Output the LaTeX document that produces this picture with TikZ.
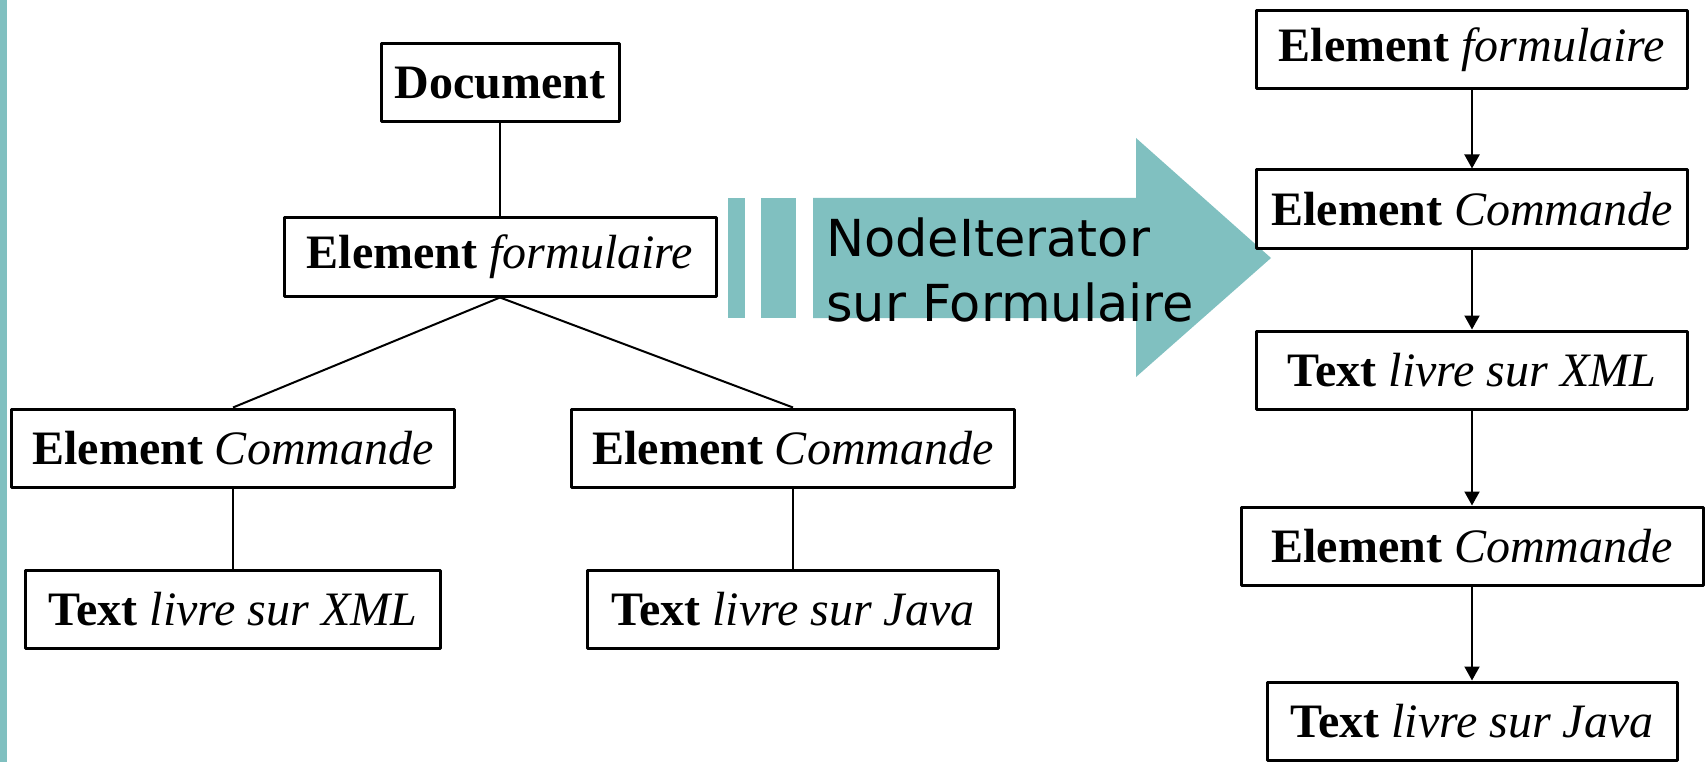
\documentclass[tikz,border=0pt]{standalone}
\usepackage{fontspec}
\setmainfont{Liberation Serif}
\newfontfamily\iterfont{DejaVu Sans}
\usetikzlibrary{arrows.meta}
\definecolor{bleuvert}{RGB}{128,192,192}
\newcommand{\elt}[2]{\textbf{#1} \textit{#2}}

\begin{document}
\begin{tikzpicture}[x=1pt, y=-1pt, line join=round, >={Triangle[width=15pt,length=14pt]},
		font=\fontsize{48}{58}\selectfont,
		noeud/.style={draw, line width=3pt, inner sep=0pt, minimum height=78pt},
		lien/.style={line width=2pt},
		fleche/.style={->, line width=2pt}]
	\useasboundingbox (0,0) rectangle (1708,762);
	\fill[bleuvert] (0,0) rectangle (7,762);
	% arbre DOM
	\node[noeud, minimum width=238pt] (doc) at (500,83) {\textbf{Document}};
	\node[noeud, minimum width=432pt] (form) at (500,257) {\elt{Element}{formulaire}};
	\node[noeud, minimum width=443pt] (cmdA) at (233,448) {\elt{Element}{Commande}};
	\node[noeud, minimum width=443pt] (cmdB) at (793,448) {\elt{Element}{Commande}};
	\node[noeud, minimum width=415pt] (txtA) at (233,609) {\elt{Text}{livre sur XML}};
	\node[noeud, minimum width=411pt] (txtB) at (793,609) {\elt{Text}{livre sur Java}};
	\draw[lien] (doc) -- (form);
	\draw[lien] (form.south) -- (cmdA.north);
	\draw[lien] (form.south) -- (cmdB.north);
	\draw[lien] (cmdA) -- (txtA);
	\draw[lien] (cmdB) -- (txtB);
	% iterateur
	\fill[bleuvert] (728,198) rectangle (745,318);
	\fill[bleuvert] (761,198) rectangle (796,318);
	\fill[bleuvert] (813,198) -- (1136,198) -- (1136,138) -- (1271,258) -- (1136,377) -- (1136,318) -- (813,318) -- cycle;
	\node[anchor=north west, align=left, inner sep=0pt, font=\iterfont\fontsize{51}{65}\selectfont] (iter) at (826,218) {NodeIterator\\sur Formulaire};
	% parcours
	\node[noeud, minimum width=431pt] (r1) at (1472,50) {\elt{Element}{formulaire}};
	\node[noeud, minimum width=431pt] (r2) at (1472,209) {\elt{Element}{Commande}};
	\node[noeud, minimum width=431pt] (r3) at (1472,370) {\elt{Text}{livre sur XML}};
	\node[noeud, minimum width=462pt] (r4) at (1472,546) {\elt{Element}{Commande}};
	\node[noeud, minimum width=410pt] (r5) at (1472,721) {\elt{Text}{livre sur Java}};
	\foreach \a/\b in {r1/r2,r2/r3,r3/r4,r4/r5}
		\draw[fleche] (\a) -- (\b);
\end{tikzpicture}
\end{document}
